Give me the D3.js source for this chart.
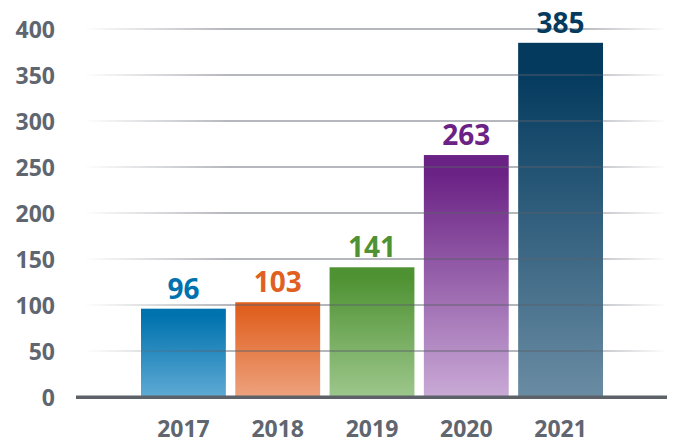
<!DOCTYPE html>
<html><head><meta charset="utf-8">
<script src="https://cdn.jsdelivr.net/npm/d3@7"></script>
<style>html,body{margin:0;padding:0;background:#fff;}svg{display:block;}</style>
</head><body><svg id="c" width="673" height="439"></svg>
<script>
const years = ["2017","2018","2019","2020","2021"];
const values = [96,103,141,263,385];
const topColors = ["#0072ae","#e0601f","#4f9233","#6b2285","#033a5e"];
const bottomColors = ["#5eaad4","#eda27e","#9dc78c","#c9aad6","#6a8ca3"];
const yTicks = [0,50,100,150,200,250,300,350,400];

const svg = d3.select("#c");
const W = 673, H = 439;
const x = d3.scaleBand().domain(years).range([141,603]).paddingInner(0.1).paddingOuter(0);
const y = d3.scaleLinear().domain([0,400]).range([397,29]);

const defs = svg.append("defs");
years.forEach((yr,i)=>{
  const g = defs.append("linearGradient").attr("id","g"+i).attr("x1",0).attr("x2",0).attr("y1",0).attr("y2",1);
  g.append("stop").attr("offset","0%").attr("stop-color",topColors[i]);
  g.append("stop").attr("offset","8%").attr("stop-color",topColors[i]);
  g.append("stop").attr("offset","100%").attr("stop-color",bottomColors[i]);
});
const gg = defs.append("linearGradient").attr("id","grid").attr("gradientUnits","userSpaceOnUse")
  .attr("x1",83).attr("x2",667).attr("y1",0).attr("y2",0);
gg.append("stop").attr("offset","0%").attr("stop-color","#5a5f6a").attr("stop-opacity",0);
gg.append("stop").attr("offset","25%").attr("stop-color","#5a5f6a").attr("stop-opacity",0.45);
gg.append("stop").attr("offset","85%").attr("stop-color","#5a5f6a").attr("stop-opacity",0.45);
gg.append("stop").attr("offset","100%").attr("stop-color","#5a5f6a").attr("stop-opacity",0);

// bars
svg.append("g").selectAll("rect").data(values).join("rect")
  .attr("x",(d,i)=>x(years[i]))
  .attr("width",x.bandwidth())
  .attr("y",d=>y(d))
  .attr("height",d=>y(0)-y(d))
  .attr("fill",(d,i)=>`url(#g${i})`);

// gridlines on top
svg.append("g").selectAll("rect").data(yTicks.filter(t=>t>0)).join("rect")
  .attr("x",83).attr("width",584)
  .attr("y",d=>y(d)-1).attr("height",2)
  .attr("fill","url(#grid)");

// baseline axis
svg.append("rect").attr("x",76).attr("width",591).attr("y",y(0)-1.5).attr("height",3.5).attr("fill","#5d6269");

// y labels
const yAxis = d3.axisLeft(y).tickValues(yTicks).tickSize(0).tickPadding(0);
const ya = svg.append("g").attr("transform","translate(55,0)").call(yAxis);
ya.select(".domain").remove();
ya.selectAll("text").attr("fill","#5f6670").style("font-family","'Open Sans',sans-serif")
  .style("font-weight",700).style("font-size","23px").attr("dy","0.36em").attr("x",0);

// x labels
const xAxis = d3.axisBottom(x).tickSize(0).tickPadding(0);
const xa = svg.append("g").attr("transform","translate(0,437)").call(xAxis);
xa.select(".domain").remove();
xa.selectAll("text").attr("fill","#5f6670").style("font-family","'Open Sans',sans-serif")
  .style("font-weight",700).style("font-size","23px").attr("dy","0").attr("y",0);

// value labels
svg.append("g").selectAll("text").data(values).join("text")
  .attr("x",(d,i)=>x(years[i])+x.bandwidth()/2)
  .attr("y",d=>y(d)-10)
  .attr("text-anchor","middle")
  .attr("fill",(d,i)=>topColors[i])
  .style("font-family","'Open Sans',sans-serif").style("font-weight",700).style("font-size","28px")
  .text(d=>d);
</script></body></html>
